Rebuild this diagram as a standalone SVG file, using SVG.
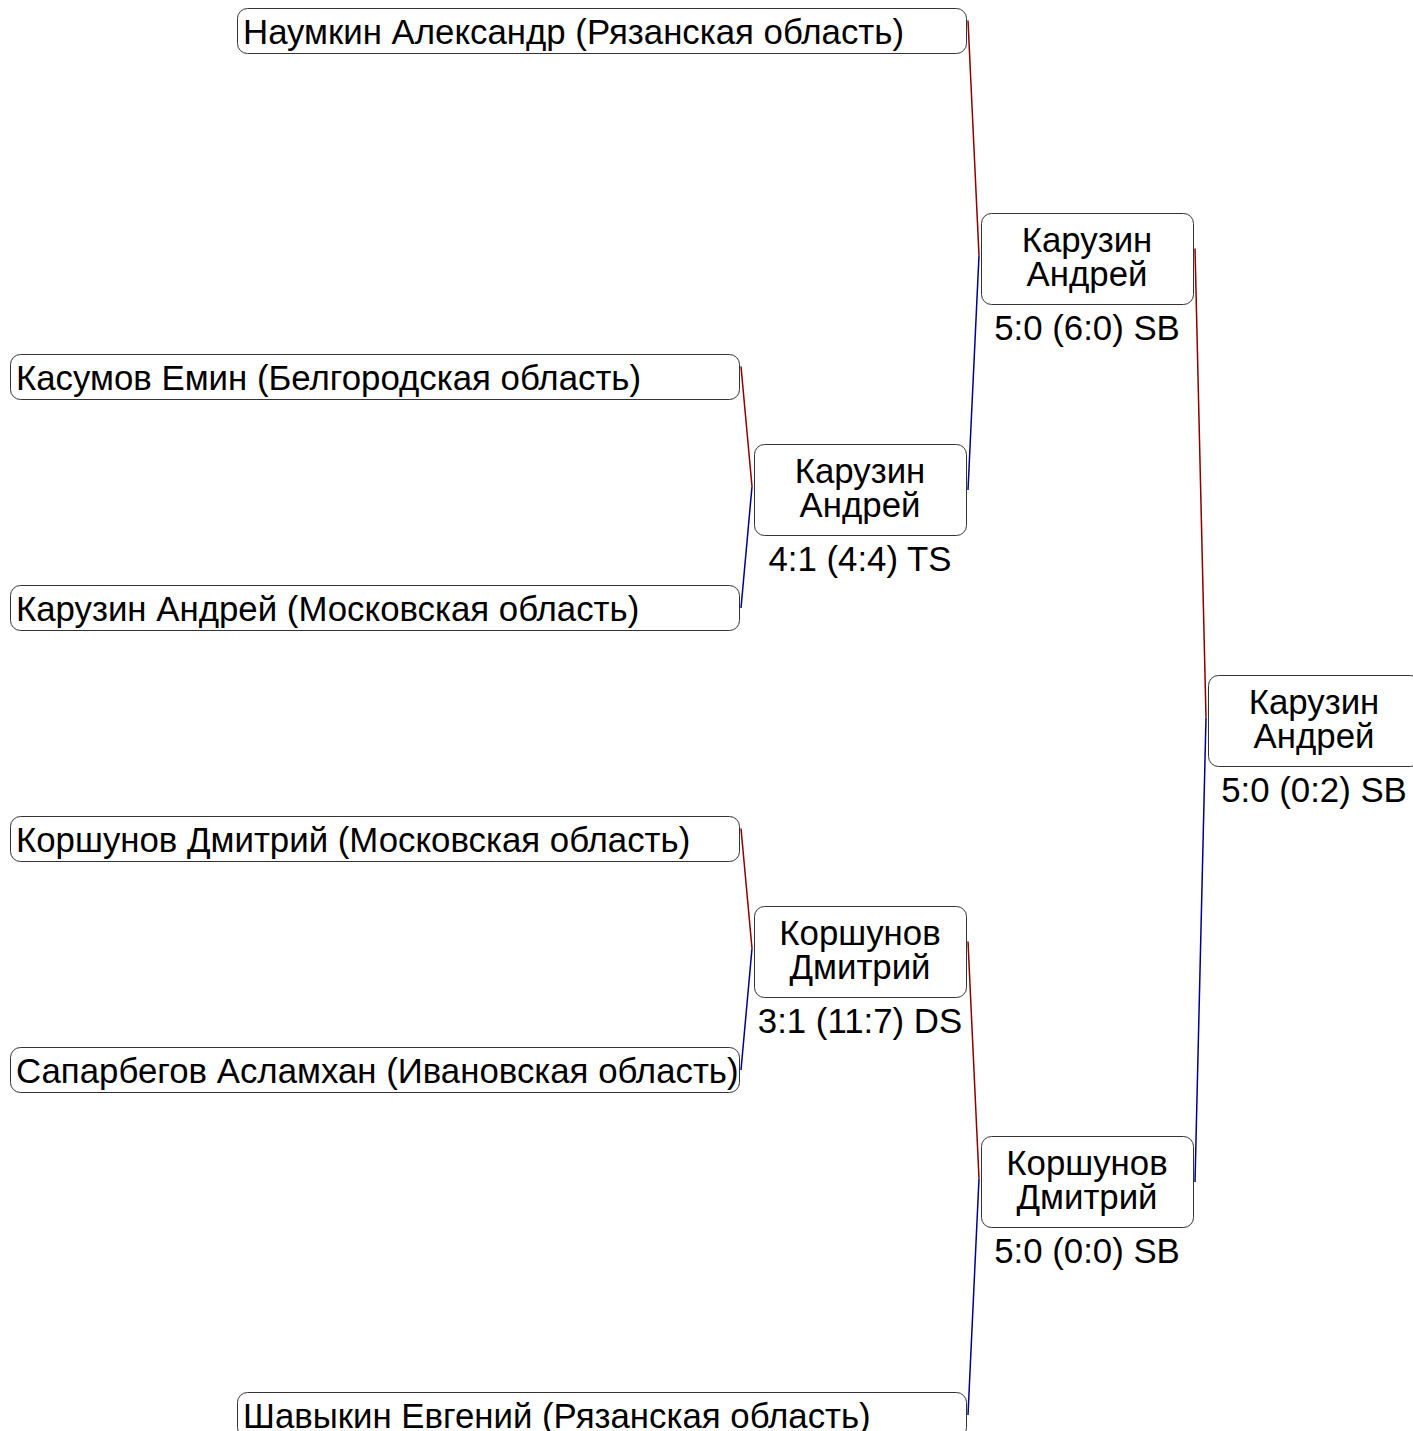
<svg xmlns="http://www.w3.org/2000/svg" width="1413" height="1431" viewBox="0 0 1413 1431">
<style>
.box{fill:#fff;stroke:#333;stroke-width:1}
text{font-family:"Liberation Sans",Arial,sans-serif;font-size:34.8px;fill:#000}
.c{text-anchor:middle}
.w{stroke:#8b0000;stroke-width:1.5;fill:none}
.l{stroke:#00008b;stroke-width:1.5;fill:none}
</style>
<rect width="1413" height="1431" fill="#fff"/>
<g id="connectors">
<line class="w" x1="741" y1="366.5" x2="752" y2="486.5"/>
<line class="l" x1="752" y1="486.5" x2="741" y2="608"/>
<line class="w" x1="741" y1="828.5" x2="752" y2="948.5"/>
<line class="l" x1="752" y1="948.5" x2="741" y2="1070"/>
<line class="w" x1="968" y1="20.5" x2="979" y2="255.5"/>
<line class="l" x1="979" y1="255.5" x2="968" y2="490"/>
<line class="w" x1="968" y1="941.5" x2="979" y2="1178.5"/>
<line class="l" x1="979" y1="1178.5" x2="968" y2="1415"/>
<line class="w" x1="1195" y1="248.5" x2="1206" y2="717.5"/>
<line class="l" x1="1206" y1="717.5" x2="1195" y2="1182"/>
</g>
<g id="p1"><rect class="box" x="237.5" y="8.5" width="729" height="45" rx="10"/><text x="243" y="44">Наумкин Александр (Рязанская область)</text></g>
<g id="p2"><rect class="box" x="10.5" y="354.5" width="729" height="45" rx="10"/><text x="16" y="390">Касумов Емин (Белгородская область)</text></g>
<g id="p3"><rect class="box" x="10.5" y="585.5" width="729" height="45" rx="10"/><text x="16" y="621">Карузин Андрей (Московская область)</text></g>
<g id="p4"><rect class="box" x="10.5" y="816.5" width="729" height="45" rx="10"/><text x="16" y="852">Коршунов Дмитрий (Московская область)</text></g>
<g id="p5"><rect class="box" x="10.5" y="1047.5" width="729" height="45" rx="10"/><text x="16" y="1083">Сапарбегов Асламхан (Ивановская область)</text></g>
<g id="p6"><rect class="box" x="237.5" y="1392.5" width="729" height="45" rx="10"/><text x="243" y="1428">Шавыкин Евгений (Рязанская область)</text></g>
<g id="r1a"><rect class="box" x="754.5" y="444.5" width="212" height="91" rx="10"/><text class="c" x="860" y="483">Карузин</text><text class="c" x="860" y="517">Андрей</text><text class="c" x="860" y="571">4:1 (4:4) TS</text></g>
<g id="r1b"><rect class="box" x="754.5" y="906.5" width="212" height="91" rx="10"/><text class="c" x="860" y="945">Коршунов</text><text class="c" x="860" y="979">Дмитрий</text><text class="c" x="860" y="1033">3:1 (11:7) DS</text></g>
<g id="r2a"><rect class="box" x="981.5" y="213.5" width="212" height="91" rx="10"/><text class="c" x="1087" y="252">Карузин</text><text class="c" x="1087" y="286">Андрей</text><text class="c" x="1087" y="340">5:0 (6:0) SB</text></g>
<g id="r2b"><rect class="box" x="981.5" y="1136.5" width="212" height="91" rx="10"/><text class="c" x="1087" y="1175">Коршунов</text><text class="c" x="1087" y="1209">Дмитрий</text><text class="c" x="1087" y="1263">5:0 (0:0) SB</text></g>
<g id="final"><rect class="box" x="1208.5" y="675.5" width="212" height="91" rx="10"/><text class="c" x="1314" y="714">Карузин</text><text class="c" x="1314" y="748">Андрей</text><text class="c" x="1314" y="802">5:0 (0:2) SB</text></g>
</svg>
